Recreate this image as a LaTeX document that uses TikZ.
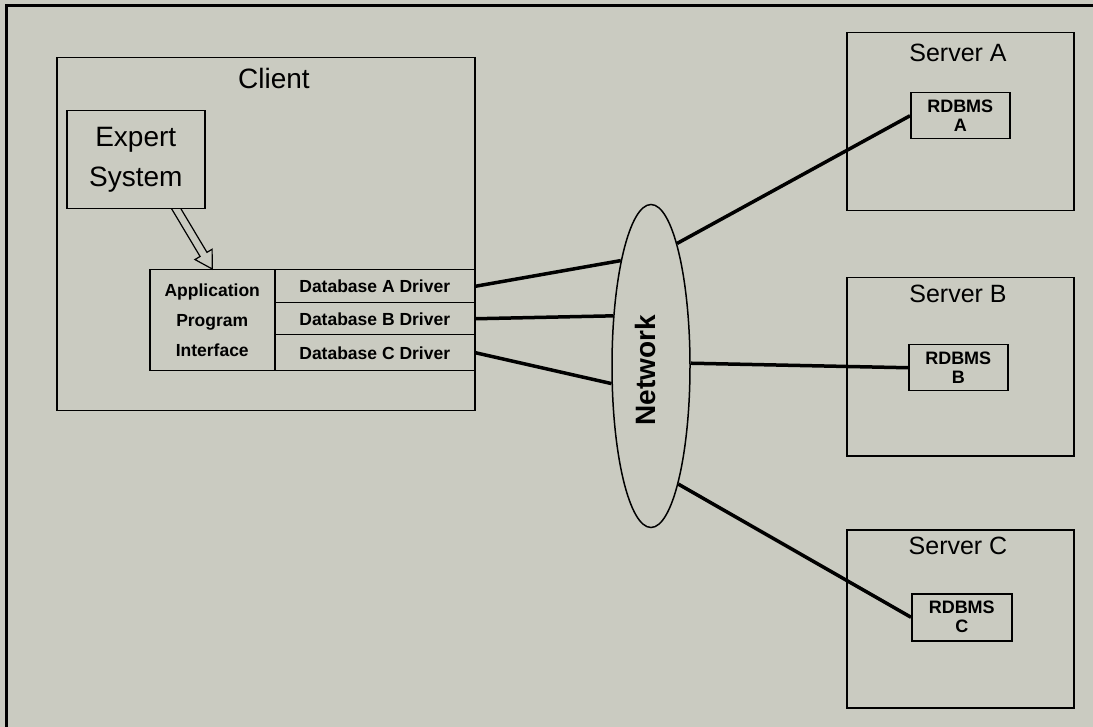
\documentclass[tikz,border=0pt]{standalone}
\usepackage{fontspec}
\setmainfont{Liberation Sans}
\usetikzlibrary{shapes.geometric,calc}
\definecolor{bg}{RGB}{202,203,193}
\begin{document}
\begin{tikzpicture}[x=1pt,y=-1pt,
  box/.style={draw, line width=1.5pt, fill=bg, inner sep=0pt, anchor=north west, align=center},
  conn/.style={line width=3.5pt},
  bigfont/.style={font=\fontsize{28}{40}\selectfont},
  srvfont/.style={font=\fontsize{25}{30}\selectfont},
  rdfont/.style={font=\bfseries\fontsize{18}{19}\selectfont},
  drvfont/.style={font=\bfseries\fontsize{17.5}{30}\selectfont},
  netfont/.style={font=\bfseries\fontsize{28}{30}\selectfont}]
\fill[bg] (0,0) rectangle (1093,727);
\useasboundingbox (0,0) rectangle (1093,727);
% outer frame
\draw[line width=3pt] (6,727) -- (6,6) -- (1093,6);
% client
\node[box, minimum width=418pt, minimum height=353pt] (client) at (56,57) {};
\node[bigfont] (clientlbl) at (274,78) {Client};
% API table
\node[box, drvfont, minimum width=125pt, minimum height=101pt] (api) at (149,269) {Application\\Program\\Interface};
\node[box, drvfont, minimum width=200pt, minimum height=33pt] (drvA) at (274,269) {Database A Driver};
\node[box, drvfont, minimum width=200pt, minimum height=32pt] (drvB) at (274,302) {Database B Driver};
\node[box, drvfont, minimum width=200pt, minimum height=36pt] (drvC) at (274,334) {Database C Driver};
% hollow arrow
\coordinate (as) at (174,205);
\coordinate (at) at (api.north);
\coordinate (hb) at ($(at)!17pt!(as)$);
\draw[line width=1.2pt, fill=bg, line join=miter]
  ($(as)!4pt!90:(at)$) -- ($(hb)!4pt!-90:(as)$) -- ($(hb)!10pt!-90:(as)$) -- (at)
  -- ($(hb)!10pt!90:(as)$) -- ($(hb)!4pt!90:(as)$) -- ($(as)!4pt!-90:(at)$);
% expert system
\node[box, bigfont, minimum width=138pt, minimum height=98pt] (expert) at (66,110) {Expert\\System};
% network
\node[draw, ellipse, line width=1.5pt, minimum width=78pt, minimum height=323pt, inner sep=0pt] (net) at (651,366) {};
\node[netfont, rotate=90] (netlbl) at (645,370) {Network};
% servers
\node[box, minimum width=227pt, minimum height=178pt] (srvA) at (846,32) {};
\node[srvfont] (srvAlbl) at (958,53) {Server A};
\node[box, rdfont, minimum width=99pt, minimum height=46pt] (rdA) at (910,92) {RDBMS\\A};
\node[box, minimum width=227pt, minimum height=178pt] (srvB) at (846,277) {};
\node[srvfont] (srvBlbl) at (958,294) {Server B};
\node[box, rdfont, minimum width=99pt, minimum height=46pt] (rdB) at (908,344) {RDBMS\\B};
\node[box, minimum width=227pt, minimum height=178pt] (srvC) at (846,529) {};
\node[srvfont] (srvClbl) at (958,546) {Server C};
\node[box, rdfont, minimum width=100pt, minimum height=47pt] (rdC) at (911,593) {RDBMS\\C};
% connectors
\draw[conn] (drvA.east) -- (net.106);
\draw[conn] (drvB.east) -- (net.127);
\draw[conn] (drvC.east) -- (net.204);
\draw[conn] (net.78) -- (rdA.west);
\draw[conn] (net.4) -- (rdB.west);
\draw[conn] (net.283) -- (rdC.west);
\end{tikzpicture}
\end{document}
